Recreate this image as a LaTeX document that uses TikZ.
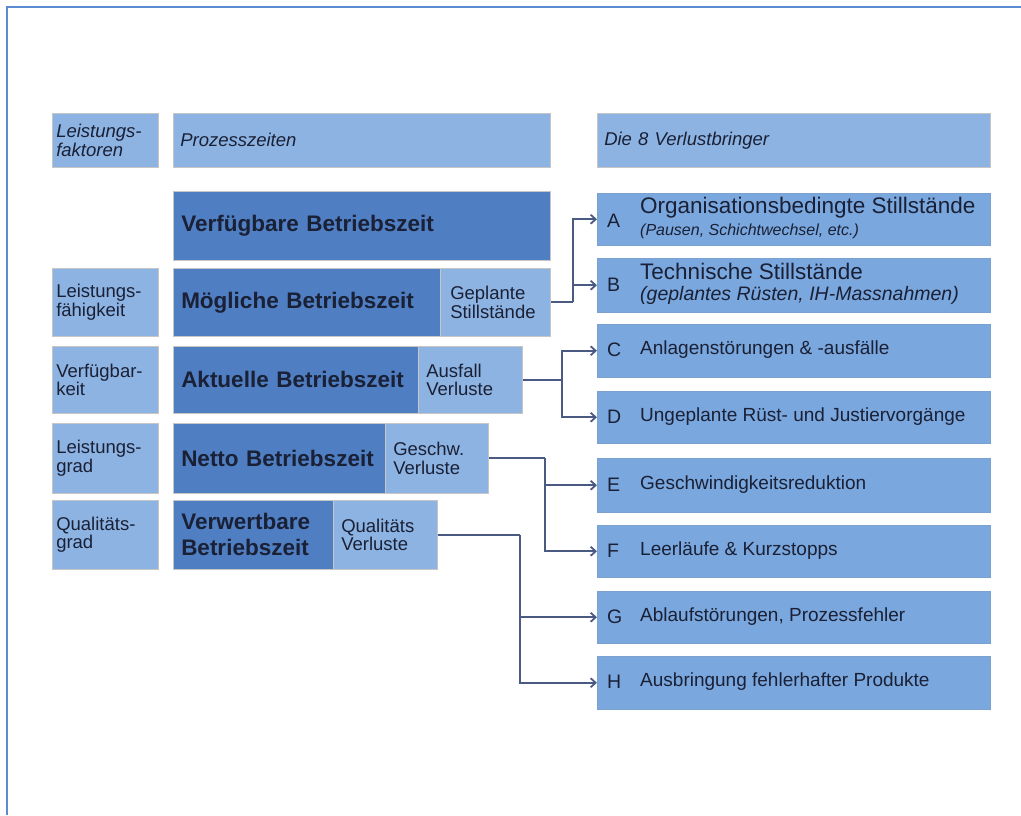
\documentclass[tikz,border=0pt]{standalone}
\usepackage{fontspec}
\setmainfont{Liberation Sans}
\usetikzlibrary{arrows.meta}
\definecolor{lightb}{HTML}{8DB3E2}
\definecolor{darkb}{HTML}{4F7FC2}
\definecolor{rightb}{HTML}{7AA7DD}
\definecolor{txt}{HTML}{1A2035}
\definecolor{linec}{HTML}{4A5A82}
\definecolor{framec}{HTML}{5B8CD2}
\tikzset{
  x=1pt, y=-1pt,
  box/.style={anchor=north west, inner xsep=7pt, inner ysep=0pt, align=left, text=txt, draw=gray!45, line width=0.5pt},
  lbox/.style={box, fill=lightb},
  dbox/.style={box, fill=darkb},
  rbox/.style={box, fill=rightb, draw=rightb!85!gray},
  conn/.style={draw=linec, line width=1.8pt},
  arr/.style={conn, -{Straight Barb[length=5pt,width=9pt]}},
  small/.style={font=\fontsize{18.5}{18.5}\selectfont},
  big/.style={font=\bfseries\fontsize{22.5}{26}\selectfont},
  rtxt/.style={anchor=west, text=txt, inner sep=0pt, font=\fontsize{19}{20}\selectfont},
  rlet/.style={anchor=west, text=txt, inner sep=0pt, font=\fontsize{19.5}{20}\selectfont}
}
\begin{document}
\begin{tikzpicture}
\useasboundingbox (0,0) rectangle (1021,815);
\fill[white] (0,0) rectangle (1021,815);
% frame
\draw[framec, line width=2.5pt] (7,815) -- (7,7) -- (1021,7);

% header row
\node[lbox, small, inner xsep=4pt, minimum width=106, minimum height=54, text width=98] (lf) at (52,113) {\itshape Leistungs-\\\itshape faktoren};
\node[lbox, small, minimum width=377, minimum height=54, text width=363] (pz) at (173,113) {\itshape Prozesszeiten};
\node[lbox, small, minimum width=393, minimum height=54, text width=379] (vb) at (597,113) {\itshape Die 8 Verlustbringer};

% left factors
\node[lbox, small, inner xsep=4pt, minimum width=106, minimum height=68, text width=98] (fa) at (52,268) {Leistungs-\\fähigkeit};
\node[lbox, small, inner xsep=4pt, minimum width=106, minimum height=67, text width=98] (fb) at (52,346) {Verfügbar-\\keit};
\node[lbox, small, inner xsep=4pt, minimum width=106, minimum height=70, text width=98] (fc) at (52,423) {Leistungs-\\grad};
\node[lbox, small, inner xsep=4pt, minimum width=106, minimum height=69, text width=98] (fd) at (52,500) {Qualitäts-\\grad};

% process times
\node[dbox, big, inner xsep=8pt, minimum width=377, minimum height=69, text width=361] (vbz) at (173,191) {Verfügbare Betriebszeit};
\node[dbox, big, inner xsep=8pt, minimum width=267, minimum height=68, text width=251] (mbz) at (173,268) {Mögliche Betriebszeit};
\node[lbox, small, inner xsep=10pt, minimum width=110, minimum height=68, text width=90] (gepl) at (440,268) {Geplante\\Stillstände};
\node[dbox, big, inner xsep=8pt, minimum width=245, minimum height=67, text width=229] (abz) at (173,346) {Aktuelle Betriebszeit};
\node[lbox, small, inner xsep=8pt, minimum width=104, minimum height=67, text width=88] (ausf) at (418,346) {Ausfall\\Verluste};
\node[dbox, big, inner xsep=8pt, minimum width=212, minimum height=70, text width=196] (nbz) at (173,423) {Netto Betriebszeit};
\node[lbox, small, inner xsep=8pt, minimum width=103, minimum height=70, text width=87] (gesch) at (385,423) {Geschw.\\Verluste};
\node[dbox, big, inner xsep=8pt, minimum width=160, minimum height=69, text width=144] (wbz) at (173,500) {Verwertbare\\Betriebszeit};
\node[lbox, small, inner xsep=8pt, minimum width=104, minimum height=69, text width=88] (qual) at (333,500) {Qualitäts\\Verluste};

% loss boxes
\node[rbox, minimum width=393, minimum height=52, text width=379] (A) at (597,193) {};
\node[rlet] (Al) at (607,221) {A};
\node[rtxt, font=\fontsize{22.5}{24}\selectfont] (At1) at (640,208) {Organisationsbedingte Stillstände};
\node[rtxt, font=\itshape\fontsize{16}{17}\selectfont] (At2) at (640,231) {(Pausen, Schichtwechsel, etc.)};
\node[rbox, minimum width=393, minimum height=54, text width=379] (B) at (597,258) {};
\node[rlet] (Bl) at (607,285) {B};
\node[rtxt, font=\fontsize{22.5}{24}\selectfont] (Bt1) at (640,271) {Technische Stillstände};
\node[rtxt, font=\itshape\fontsize{19.5}{20}\selectfont] (Bt2) at (640,295) {(geplantes Rüsten, IH-Massnahmen)};
\node[rbox, minimum width=393, minimum height=53, text width=379] (C) at (597,324) {};
\node[rlet] (Cl) at (607,350) {C};
\node[rtxt] (Ct) at (640,350) {Anlagenstörungen \& -ausfälle};
\node[rbox, minimum width=393, minimum height=52, text width=379] (D) at (597,391) {};
\node[rlet] (Dl) at (607,417) {D};
\node[rtxt] (Dt) at (640,417) {Ungeplante Rüst- und Justiervorgänge};
\node[rbox, minimum width=393, minimum height=54, text width=379] (E) at (597,458) {};
\node[rlet] (El) at (607,485) {E};
\node[rtxt] (Et) at (640,485) {Geschwindigkeitsreduktion};
\node[rbox, minimum width=393, minimum height=52, text width=379] (F) at (597,525) {};
\node[rlet] (Fl) at (607,551) {F};
\node[rtxt] (Ft) at (640,551) {Leerläufe \& Kurzstopps};
\node[rbox, minimum width=393, minimum height=52, text width=379] (G) at (597,591) {};
\node[rlet] (Gl) at (607,617) {G};
\node[rtxt] (Gt) at (640,617) {Ablaufstörungen, Prozessfehler};
\node[rbox, minimum width=393, minimum height=53, text width=379] (H) at (597,656) {};
\node[rlet] (Hl) at (607,682) {H};
\node[rtxt] (Ht) at (640,682) {Ausbringung fehlerhafter Produkte};

% junction columns
\coordinate (j1) at (573,0);
\coordinate (j2) at (562,0);
\coordinate (j3) at (545,0);
\coordinate (j4) at (520,0);

% connectors
\draw[conn] (gepl.east) -- (gepl.east -| j1);
\draw[arr] (gepl.east -| j1) |- (A.west);
\draw[arr] (gepl.east -| j1) |- (B.west);
\draw[conn] (ausf.east) -- (ausf.east -| j2);
\draw[arr] (ausf.east -| j2) |- (C.west);
\draw[arr] (ausf.east -| j2) |- (D.west);
\draw[conn] (gesch.east) -- (gesch.east -| j3);
\draw[arr] (gesch.east -| j3) |- (E.west);
\draw[arr] (gesch.east -| j3) |- (F.west);
\draw[conn] (qual.east) -- (qual.east -| j4);
\draw[arr] (qual.east -| j4) |- (G.west);
\draw[arr] (qual.east -| j4) |- (H.west);
\end{tikzpicture}
\end{document}
